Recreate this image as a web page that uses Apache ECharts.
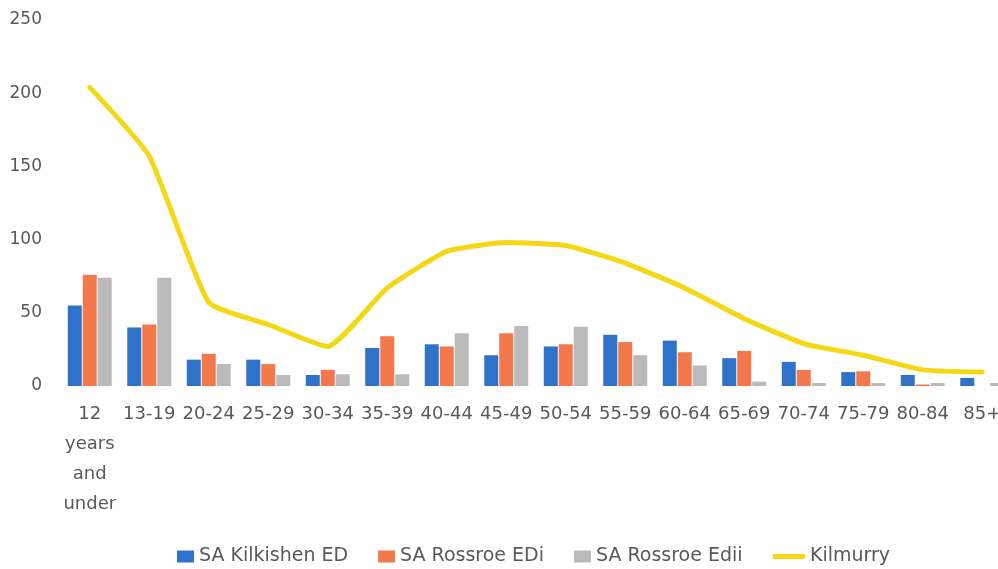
<!DOCTYPE html>
<html><head><meta charset="utf-8">
<script src="https://cdn.jsdelivr.net/npm/echarts@6/dist/echarts.min.js"></script>
<style>html,body{margin:0;padding:0;background:#fff;overflow:hidden;width:998px;height:569px}#c{width:1012px;height:569px}</style>
</head><body><div id="c"></div>
<script>
var categories = ['12\nyears\nand\nunder','13-19','20-24','25-29','30-34','35-39','40-44','45-49','50-54','55-59','60-64','65-69','70-74','75-79','80-84','85+'];
var kilkishen = [55, 40, 18, 18, 7.5, 26, 28.5, 21, 27, 35, 31, 19, 16.5, 9.5, 7.5, 5.5];
var rossroeEDi = [76, 42, 22, 15, 11, 34, 27, 36, 28.5, 30, 23, 24, 11, 10, 1, 0];
var rossroeEdii = [74, 74, 15, 7.5, 8, 8, 36, 41, 40.5, 21, 14, 3, 2, 2, 2, 2];
var kilmurry = [204, 157, 57, 42, 27, 67, 92, 98, 96, 84, 67, 46, 29, 21, 11, 9.5];
var yTicks = [0, 50, 100, 150, 200, 250];

var font = 'DejaVu Sans';
var txt = '#595959';
var chart = echarts.init(document.getElementById('c'));
chart.setOption({
  animation: false,
  textStyle: {fontFamily: font},
  grid: {left: 60, top: 20, width: 952, height: 366, containLabel: false},
  legend: [{
    top: 542, left: 172, itemWidth: 17, itemHeight: 12, itemGap: 30,
    textStyle: {fontSize: 19, color: txt, fontFamily: font},
    data: [
      {name: 'SA Kilkishen ED', icon: 'rect'},
      {name: 'SA Rossroe EDi', icon: 'rect'},
      {name: 'SA Rossroe Edii', icon: 'rect'}
    ]
  }, {
    top: 542, left: 768, itemWidth: 32, itemHeight: 5,
    textStyle: {fontSize: 19, color: txt, fontFamily: font},
    data: [{name: 'Kilmurry', icon: 'rect'}]
  }],
  xAxis: {
    type: 'category', data: categories,
    axisLine: {show: false}, axisTick: {show: false},
    axisLabel: {fontSize: 18, color: txt, lineHeight: 30, margin: 13, interval: 0}
  },
  yAxis: {
    type: 'value', min: 0, max: 250, interval: 50,
    splitLine: {show: false}, axisLine: {show: false}, axisTick: {show: false},
    axisLabel: {fontSize: 17, color: txt, margin: 18,
      formatter: function (v) { return yTicks.indexOf(v) >= 0 ? String(v) : ''; }}
  },
  series: [
    {name: 'SA Kilkishen ED', type: 'bar', data: kilkishen, barWidth: 14, barGap: '7%', itemStyle: {color: '#2e72c9'}},
    {name: 'SA Rossroe EDi', type: 'bar', data: rossroeEDi, barWidth: 14, barGap: '7%', itemStyle: {color: '#f3794c'}},
    {name: 'SA Rossroe Edii', type: 'bar', data: rossroeEdii, barWidth: 14, barGap: '7%', itemStyle: {color: '#bababa'}},
    {name: 'Kilmurry', type: 'line', data: kilmurry, symbol: 'none', smooth: 0.15,
      lineStyle: {color: '#f4d815', width: 5, join: 'round', cap: 'round'}, itemStyle: {color: '#f4d815'}}
  ]
});
</script></body></html>
